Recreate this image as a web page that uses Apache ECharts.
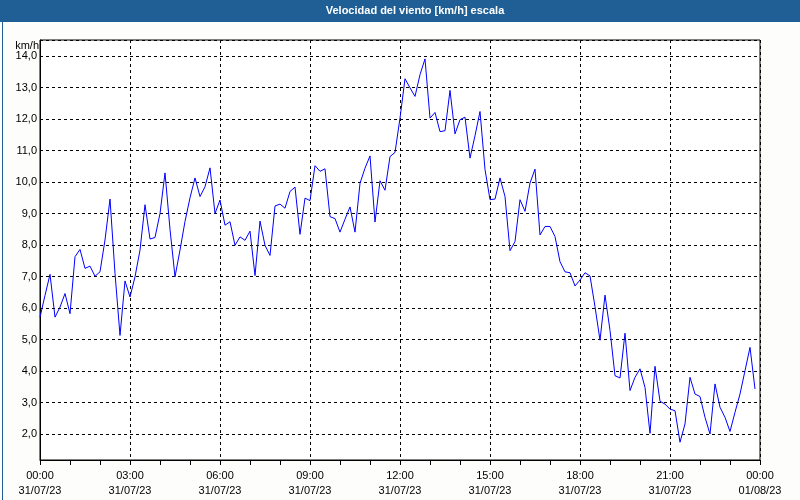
<!DOCTYPE html>
<html><head><meta charset="utf-8">
<script src="https://cdn.jsdelivr.net/npm/echarts@6/dist/echarts.min.js"></script>
<style>html,body{margin:0;padding:0;background:#fdfdfb}#c{width:800px;height:500px}</style>
</head><body><div id="c"></div>
<script>
const titleText = 'Velocidad del viento [km/h] escala';
const unitLabel = 'km/h';
const stepMinutes = 10;
const speeds = [
  5.71, 6.40, 7.07, 5.71, 6.03, 6.46, 5.82, 7.63, 7.86, 7.26, 7.33, 7.01,
  7.15, 8.16, 9.46, 7.10, 5.13, 6.86, 6.35, 6.99, 7.84, 9.28, 8.19, 8.24,
  9.00, 10.29, 8.50, 6.99, 7.84, 8.75, 9.50, 10.13, 9.54, 9.85, 10.45, 9.00,
  9.43, 8.63, 8.74, 7.99, 8.26, 8.15, 8.44, 7.03, 8.76, 7.99, 7.67, 9.24,
  9.30, 9.17, 9.70, 9.84, 8.34, 9.49, 9.41, 10.52, 10.34, 10.42, 8.90, 8.84,
  8.41, 8.82, 9.21, 8.41, 9.96, 10.44, 10.83, 8.73, 10.04, 9.74, 10.81, 10.94,
  12.03, 13.28, 12.99, 12.72, 13.41, 13.91, 12.03, 12.21, 11.60, 11.63, 12.91, 11.53,
  11.98, 12.06, 10.76, 11.47, 12.24, 10.40, 9.44, 9.46, 10.13, 9.54, 7.82, 8.11,
  9.44, 9.07, 9.97, 10.41, 8.32, 8.59, 8.59, 8.27, 7.47, 7.15, 7.12, 6.70,
  6.89, 7.12, 7.02, 6.04, 4.98, 6.41, 5.29, 3.85, 3.78, 5.20, 3.38, 3.80,
  4.07, 3.48, 2.02, 4.15, 3.04, 2.95, 2.79, 2.74, 1.74, 2.32, 3.80, 3.27,
  3.19, 2.53, 2.00, 3.59, 2.85, 2.53, 2.08, 2.69, 3.27, 4.01, 4.75, 3.43
];
const xTickLabels = [
  '00:00\n31/07/23', '03:00\n31/07/23', '06:00\n31/07/23', '09:00\n31/07/23',
  '12:00\n31/07/23', '15:00\n31/07/23', '18:00\n31/07/23', '21:00\n31/07/23',
  '00:00\n01/08/23'
];
const yMin = 1.175, yMax = 14.51;

const data = speeds.map((v, i) => [i * stepMinutes / 60, v]);
const font = 'Liberation Sans';
const dash = { color: '#000', width: 1, type: [3, 3] };

const chart = echarts.init(document.getElementById('c'), null, { renderer: 'canvas' });
chart.setOption({
  backgroundColor: '#fdfdfb',
  animation: false,
  grid: { left: 40, right: 40, top: 40, bottom: 40, show: true, backgroundColor: '#ffffff', borderColor: '#000', borderWidth: 1 },
  graphic: [
    { type: 'rect', left: 0, top: 0, shape: { width: 800, height: 22 }, style: { fill: '#1f5f96' }, z: 10 },
    { type: 'text', style: { x: 415, y: 11, text: titleText, fill: '#ffffff', font: 'bold 11px ' + font, textAlign: 'center', textVerticalAlign: 'middle' }, z: 11 },
    { type: 'text', right: 761, top: 40, style: { text: unitLabel, fill: '#000', font: '11px ' + font, textAlign: 'right' }, z: 11 },
    { type: 'rect', left: 0, top: 0, shape: { x: 0.5, y: 0.5, width: 799, height: 499 }, style: { fill: 'none', stroke: '#1f5f96', lineWidth: 1 }, z: 12 }
  ],
  xAxis: {
    type: 'value', min: 0, max: 24, interval: 3,
    axisLine: { show: true, lineStyle: { color: '#000', width: 1 } },
    axisTick: { show: true, length: 5, lineStyle: { color: '#000' } },
    minorTick: { show: true, splitNumber: 3, length: 5, lineStyle: { color: '#000' } },
    axisLabel: { margin: 8, color: '#000', fontFamily: font, fontSize: 11, lineHeight: 15,
      formatter: v => xTickLabels[Math.round(v / 3)] || '' },
    splitLine: { show: true, lineStyle: dash }
  },
  yAxis: {
    type: 'value', min: yMin, max: yMax, minInterval: 1, maxInterval: 1,
    axisLine: { show: true, lineStyle: { color: '#000', width: 1 } },
    axisTick: { show: false },
    axisLabel: { margin: 3, color: '#000', fontFamily: font, fontSize: 11,
      formatter: v => Math.abs(v - Math.round(v)) < 1e-6 ? v.toFixed(1).replace('.', ',') : '' },
    splitLine: { show: true, lineStyle: dash }
  },
  series: [{
    type: 'line', data: data, showSymbol: false, symbol: 'none',
    lineStyle: { color: '#0000ff', width: 1 }, clip: true
  }]
});
</script></body></html>
